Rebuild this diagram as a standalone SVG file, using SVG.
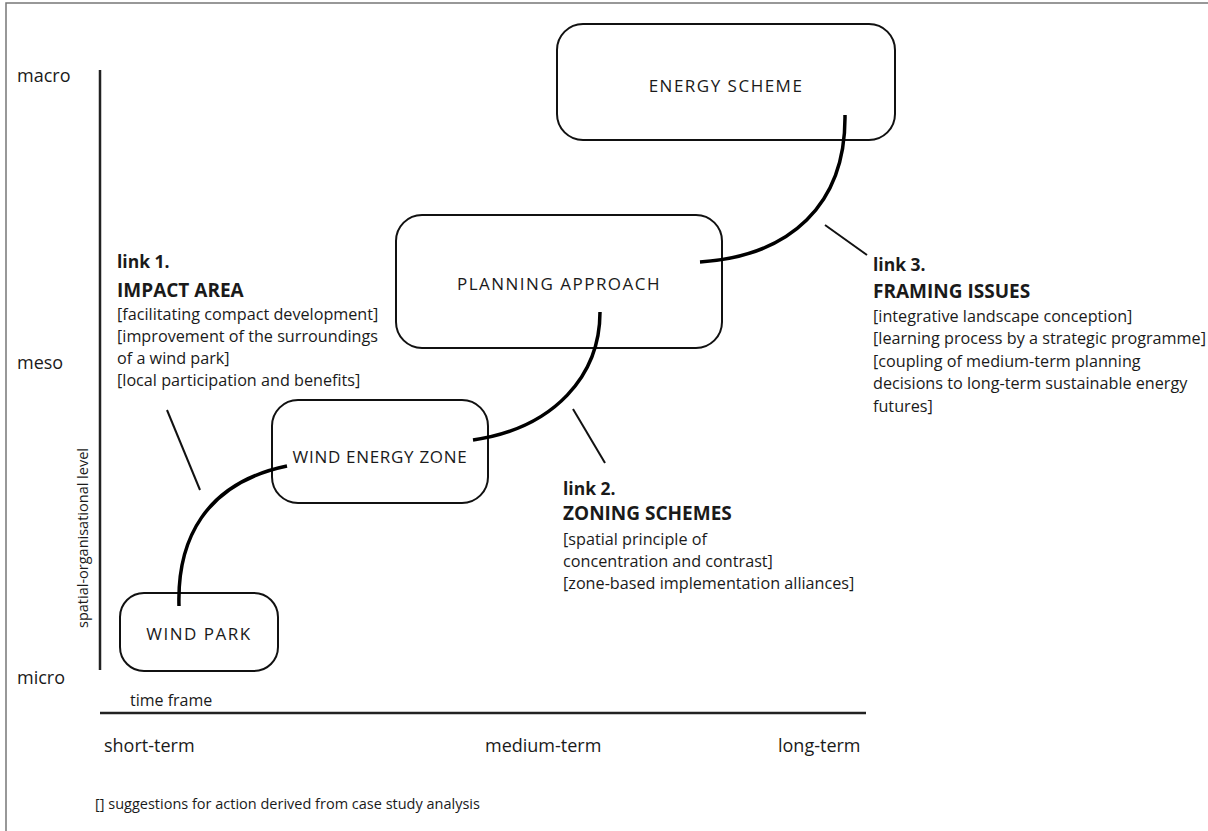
<svg xmlns="http://www.w3.org/2000/svg" width="1208" height="831" viewBox="0 0 1208 831">
<style>
text{font-family:"Open Sans","Noto Sans",sans-serif;fill:#1a1a1a}
.ax{font-size:18px}
.tf{font-size:16px}
.sm{font-size:14.5px}
.body{font-size:16.2px}
.lk{font-size:17.5px;font-weight:bold}
.hd{font-size:19px;font-weight:bold}
.nl{font-size:17px;letter-spacing:1.5px;text-anchor:middle}
.box{fill:#fff;stroke:#111;stroke-width:2}
.axis{stroke:#222;stroke-width:2.5;fill:none}
.conn{stroke:#000;stroke-width:3.5;fill:none;stroke-linecap:butt}
.tick{stroke:#111;stroke-width:2;fill:none}
</style>
<rect width="1208" height="831" fill="#fff"/>
<path d="M6,831 V3 H1208" fill="none" stroke="#777" stroke-width="1.5"/>
<g id="axes">
<line class="axis" x1="100" y1="70" x2="100" y2="670"/>
<line class="axis" x1="100" y1="713" x2="866" y2="713"/>
<text class="ax" x="17" y="82">macro</text>
<text class="ax" x="17" y="369">meso</text>
<text class="ax" x="17" y="684">micro</text>
<text class="sm" transform="translate(88,538) rotate(-90)" text-anchor="middle">spatial-organisational level</text>
<text class="tf" x="130" y="706">time frame</text>
<text class="ax" x="104" y="752">short-term</text>
<text class="ax" x="485" y="752">medium-term</text>
<text class="ax" x="778" y="752">long-term</text>
<text class="sm" x="95" y="809">[] suggestions for action derived from case study analysis</text>
</g>
<g id="node-energy-scheme">
<rect class="box" x="557" y="24" width="338" height="116" rx="26"/>
<text class="nl" x="726" y="92">ENERGY SCHEME</text>
</g>
<g id="node-planning-approach">
<rect class="box" x="396" y="215" width="326" height="133" rx="26"/>
<text class="nl" x="559" y="290">PLANNING APPROACH</text>
</g>
<g id="node-wind-energy-zone">
<rect class="box" x="272" y="400" width="216" height="103" rx="26"/>
<text class="nl" x="380" y="463" style="letter-spacing:0.7px">WIND ENERGY ZONE</text>
</g>
<g id="node-wind-park">
<rect class="box" x="120" y="593" width="158" height="78" rx="24"/>
<text class="nl" x="199" y="640">WIND PARK</text>
</g>
<g id="connectors">
<path class="conn" d="M179,606 C177,540 205,483 287,466"/>
<path class="conn" d="M473,440 C555,428 600,375 600,312"/>
<path class="conn" d="M700,262 C790,256 846,205 845,115"/>
<line class="tick" x1="167" y1="410" x2="200" y2="490"/>
<line class="tick" x1="573" y1="409" x2="605" y2="463"/>
<line class="tick" x1="825" y1="225" x2="867" y2="255"/>
</g>
<g id="link1">
<text class="lk" x="117" y="268">link 1.</text>
<text class="hd" x="117" y="297">IMPACT AREA</text>
<text class="body" x="117" y="320">[facilitating compact development]</text>
<text class="body" x="117" y="342">[improvement of the surroundings</text>
<text class="body" x="117" y="364">of a wind park]</text>
<text class="body" x="117" y="386">[local participation and benefits]</text>
</g>
<g id="link2">
<text class="lk" x="563" y="495">link 2.</text>
<text class="hd" x="563" y="520">ZONING SCHEMES</text>
<text class="body" x="563" y="545">[spatial principle of</text>
<text class="body" x="563" y="567">concentration and contrast]</text>
<text class="body" x="563" y="589">[zone-based implementation alliances]</text>
</g>
<g id="link3">
<text class="lk" x="873" y="271">link 3.</text>
<text class="hd" x="873" y="298">FRAMING ISSUES</text>
<text class="body" x="873" y="322">[integrative landscape conception]</text>
<text class="body" x="873" y="344">[learning process by a strategic programme]</text>
<text class="body" x="873" y="367">[coupling of medium-term planning</text>
<text class="body" x="873" y="389">decisions to long-term sustainable energy</text>
<text class="body" x="873" y="412">futures]</text>
</g>
</svg>
